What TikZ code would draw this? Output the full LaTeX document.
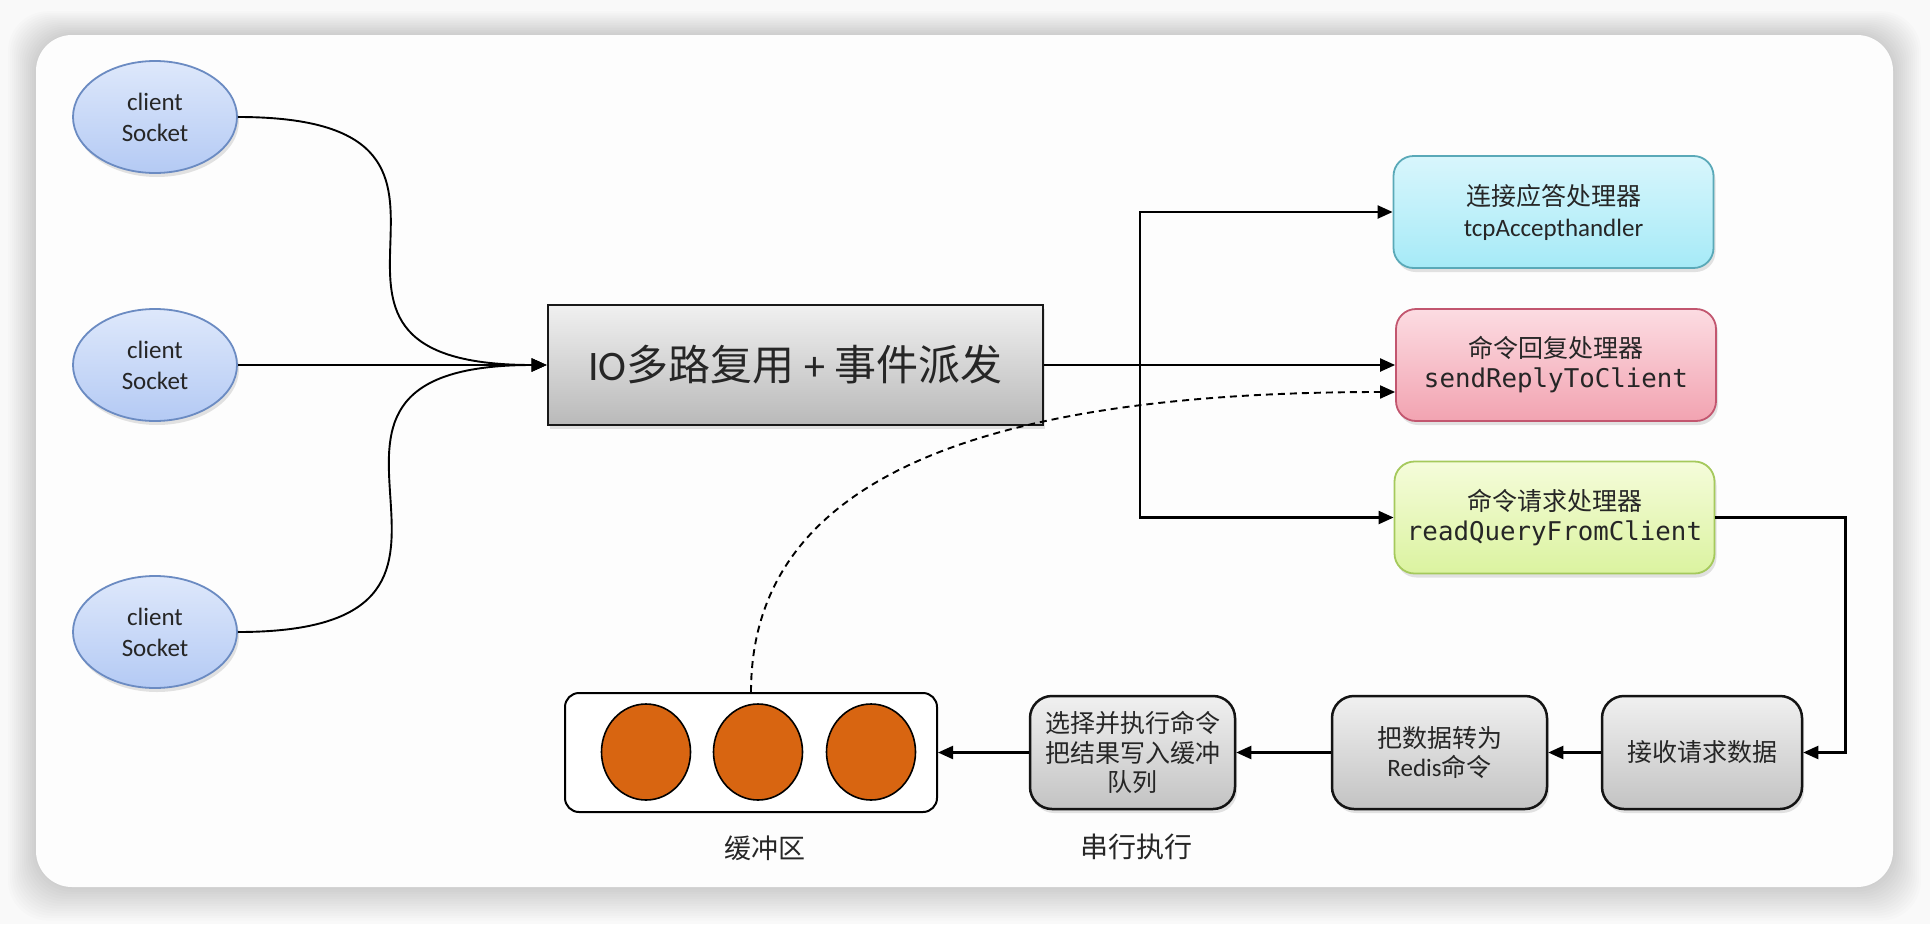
\documentclass[tikz,border=0pt]{standalone}
\usepackage{fontspec}
\setmainfont{Carlito}
\newfontfamily\cjk{Noto Sans CJK SC}
\newfontfamily\mono{DejaVu Sans Mono}
\usetikzlibrary{shapes.geometric,arrows.meta,shadows}
\definecolor{txt}{HTML}{262626}
\definecolor{ellT}{HTML}{DEE8FB}
\definecolor{ellB}{HTML}{B4CAF4}
\definecolor{ellD}{HTML}{6B8BC2}
\definecolor{bluT}{HTML}{D8F6FC}
\definecolor{bluB}{HTML}{A6EAF7}
\definecolor{bluD}{HTML}{5AA9B8}
\definecolor{redT}{HTML}{FCDCE2}
\definecolor{redB}{HTML}{F2A3B1}
\definecolor{redD}{HTML}{C2566F}
\definecolor{grnT}{HTML}{F5FCDA}
\definecolor{grnB}{HTML}{DBF3A0}
\definecolor{grnD}{HTML}{A5C95C}
\definecolor{gryT}{HTML}{F0F0F0}
\definecolor{gryB}{HTML}{C3C3C3}
\definecolor{orng}{HTML}{D86511}
\definecolor{cardbg}{HTML}{FDFDFD}
\definecolor{outbg}{HTML}{F9F9F9}
\begin{document}
\begin{tikzpicture}[x=1pt,y=-1pt,
  shad/.style={drop shadow={opacity=0.22,shadow xshift=2pt,shadow yshift=-4pt}},
  client/.style={ellipse,draw=ellD,line width=1.8pt,top color=ellT,bottom color=ellB,
    minimum width=164pt,minimum height=112pt,inner sep=0pt,align=center,text=txt,
    font=\fontsize{25}{31}\selectfont,shad},
  mainbox/.style={rectangle,draw=black!90,line width=2.8pt,top color=gryT,bottom color=gryB!95!black,
    minimum width=495pt,minimum height=120pt,inner sep=0pt,text=txt,
    font=\fontsize{42}{48}\selectfont,shad},
  handler/.style={rectangle,rounded corners=20pt,line width=1.8pt,
    minimum width=320pt,minimum height=112pt,inner sep=0pt,align=center,text=txt,
    font=\fontsize{25}{31}\selectfont,shad},
  graybox/.style={rectangle,rounded corners=22pt,draw=black!92,line width=2.5pt,
    top color=gryT,bottom color=gryB,minimum height=113pt,inner sep=0pt,align=center,
    text=txt,font=\fontsize{25}{29.5}\selectfont,shad},
  orb/.style={ellipse,draw=black,line width=1.6pt,fill=orng,minimum width=89pt,minimum height=96pt,inner sep=0pt},
  lbl/.style={text=txt,inner sep=0pt},
  arr/.style={line width=2.2pt,-{Triangle[length=15pt,width=13pt]}},
  carr/.style={line width=1.9pt,-{Triangle[length=15pt,width=13pt]}},
]
\useasboundingbox (0,0) rectangle (1930,924);
% background and card
\fill[outbg] (0,0) rectangle (1930,924);
\foreach \i in {1,...,14}
  \fill[black,opacity=0.01,rounded corners=40pt] (36-2*\i,35-1.7*\i) rectangle (1893+2*\i,887+2.4*\i);
\fill[cardbg,rounded corners=36pt] (36,35) rectangle (1893,887);

% clients
\node[client] (c1) at (155,117) {client\\Socket};
\node[client] (c2) at (155,365) {client\\Socket};
\node[client] (c3) at (155,632) {client\\Socket};

% main box
\node[mainbox] (main) at (795.5,365) {IO{\cjk 多路复用} + {\cjk 事件派发}};

% handlers
\node[handler,draw=bluD,top color=bluT,bottom color=bluB] (blue) at (1553.5,212)
  {{\cjk 连接应答处理器}\\tcpAccepthandler};
\node[handler,draw=redD,top color=redT,bottom color=redB] (red) at (1556,365)
  {{\cjk 命令回复处理器}\\[-1pt]{\mono\fontsize{25.8}{31}\selectfont sendReplyToClient}};
\node[handler,draw=grnD,top color=grnT,bottom color=grnB] (green) at (1554.5,517.5)
  {{\cjk 命令请求处理器}\\[-1pt]{\mono\fontsize{25.8}{31}\selectfont readQueryFromClient}};

% bottom row
\node[graybox,minimum width=200pt] (recv) at (1702,752.5) {\cjk 接收请求数据};
\node[graybox,minimum width=215pt] (conv) at (1439.5,752.5) {{\cjk 把数据转为}\\Redis{\cjk 命令}};
\node[graybox,minimum width=205pt] (exec) at (1132.5,752.5)
  {{\cjk 选择并执行命令}\\{\cjk 把结果写入缓冲}\\{\cjk 队列}};
\node[rectangle,rounded corners=14pt,draw=black,line width=2pt,fill=white,
  minimum width=372pt,minimum height=119pt] (buf) at (751,752.5) {};
\node[orb] (o1) at (646,752) {};
\node[orb] (o2) at (758,752) {};
\node[orb] (o3) at (871,752) {};

\node[lbl,font=\cjk\fontsize{27}{30}\selectfont] (buflbl) at (765,848) {缓冲区};
\node[lbl,font=\cjk\fontsize{28}{30}\selectfont] (execlbl) at (1136,847) {串行执行};

% client connectors
\draw[carr] (c1.east) to[out=0,in=180,looseness=2] (main.west);
\draw[carr] (c2.east) -- (main.west);
\draw[carr] (c3.east) to[out=0,in=180,looseness=2] (main.west);

% dispatch
\coordinate (split) at (1140,365);
\draw[arr] (main.east) -- (red.west);
\draw[arr] (split) |- (blue.west);
\draw[arr] (split) |- (green.west);

% processing chain
\draw[arr] (green.east) -- ++(130,0) |- (recv.east);
\draw[arr] (recv.west) -- (conv.east);
\draw[arr] (conv.west) -- (exec.east);
\draw[arr] (exec.west) -- (buf.east);

% reply path
\coordinate (rin) at ([yshift=-27pt]red.west);
\draw[line width=1.9pt,dash pattern=on 7pt off 5pt,-{Triangle[length=15pt,width=13pt]}]
  (buf.north) .. controls +(0,-220) and +(-400,0) .. (rin);
\end{tikzpicture}
\end{document}
